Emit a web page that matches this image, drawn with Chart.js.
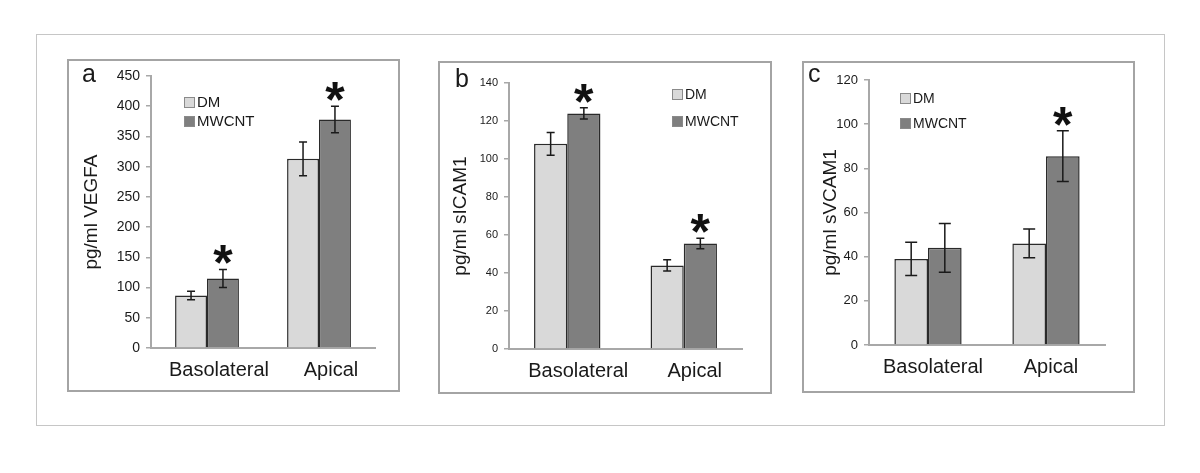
<!DOCTYPE html>
<html>
<head>
<meta charset="utf-8">
<script src="https://cdn.jsdelivr.net/npm/chart.js@4.4.0/dist/chart.umd.min.js"></script>
<style>
body { margin: 0; background: #fff; width: 1200px; height: 473px; position: relative; overflow: hidden; }
#frame { position: absolute; left: 36px; top: 34px; width: 1129px; height: 392px; border: 1.5px solid #c6c6c6; box-sizing: border-box; }
.panel { position: absolute; border: 2px solid #a4a4a4; box-sizing: border-box; background: #fff; }
.panel div { position: absolute; left: 0; top: 0; right: 0; bottom: 0; }
</style>
</head>
<body>
<div id="frame"></div>
<div class="panel" style="left:67px;top:59px;width:333px;height:333px"><div><canvas id="chartA"></canvas></div></div>
<div class="panel" style="left:438px;top:61px;width:334px;height:333px"><div><canvas id="chartB"></canvas></div></div>
<div class="panel" style="left:802px;top:61px;width:333px;height:332px"><div><canvas id="chartC"></canvas></div></div>
<script>
var categories = ["Basolateral", "Apical"];
var seriesNames = ["DM", "MWCNT"];

// panel a - VEGFA
var vegfaDM = [87, 313];
var vegfaDMErr = [7, 28];
var vegfaMW = [115, 378];
var vegfaMWErr = [15, 22];
var vegfaStars = [true, true];

// panel b - sICAM1
var icamDM = [108, 44];
var icamDMErr = [6, 3];
var icamMW = [124, 55.5];
var icamMWErr = [3, 2.8];
var icamStars = [true, true];

// panel c - sVCAM1
var vcamDM = [39, 46];
var vcamDMErr = [7.5, 6.5];
var vcamMW = [44, 85.5];
var vcamMWErr = [11, 11.5];
var vcamStars = [false, true];

var FONT = "'Liberation Sans', Arial, sans-serif";
var lightGrey = "#d9d9d9";
var darkGrey = "#7f7f7f";

var extras = {
    id: 'extras',
    afterDatasetsDraw: function (chart, args, opts) {
        var ctx = chart.ctx;
        var y = chart.scales.y;
        ctx.save();
        ctx.strokeStyle = "#1a1a1a";
        ctx.lineWidth = 1.5;
        chart.data.datasets.forEach(function (ds, i) {
            chart.getDatasetMeta(i).data.forEach(function (bar, j) {
                var top = y.getPixelForValue(ds.data[j] + ds.errors[j]);
                var bot = y.getPixelForValue(ds.data[j] - ds.errors[j]);
                var half = opts.cap / 2;
                ctx.beginPath();
                ctx.moveTo(bar.x, top); ctx.lineTo(bar.x, bot);
                ctx.moveTo(bar.x - half, top); ctx.lineTo(bar.x + half, top);
                ctx.moveTo(bar.x - half, bot); ctx.lineTo(bar.x + half, bot);
                ctx.stroke();
                if (ds.stars && ds.stars[j]) {
                    ctx.fillStyle = "#111";
                    ctx.font = "bold 50px " + FONT;
                    ctx.textAlign = "center";
                    ctx.textBaseline = "alphabetic";
                    ctx.fillText("*", bar.x, top + 11);
                }
            });
        });
        ctx.restore();
    },
    afterDraw: function (chart, args, opts) {
        var ctx = chart.ctx;
        ctx.save();
        // panel letter
        ctx.fillStyle = "#1a1a1a";
        ctx.font = "25px " + FONT;
        ctx.textAlign = "left";
        ctx.textBaseline = "alphabetic";
        ctx.fillText(opts.letter, opts.letterX, opts.letterY);
        // legend
        ctx.font = opts.legendFont + "px " + FONT;
        ctx.textBaseline = "middle";
        chart.data.datasets.forEach(function (ds, i) {
            var cy = opts.legendY + i * opts.legendGap;
            ctx.fillStyle = ds.backgroundColor;
            ctx.fillRect(opts.legendX, cy - 5, 10, 10);
            ctx.strokeStyle = "#8a8a8a";
            ctx.lineWidth = 1;
            ctx.strokeRect(opts.legendX + 0.5, cy - 4.5, 10, 10);
            ctx.fillStyle = "#1a1a1a";
            ctx.fillText(ds.label, opts.legendX + 13, cy + 1);
        });
        ctx.restore();
    }
};

function makeBars(canvas_id, dm, dmErr, mw, mwErr, stars, axis, look) {
    var ctx = document.getElementById(canvas_id).getContext("2d");
    return new Chart(ctx, {
        type: 'bar',
        data: {
            labels: categories,
            datasets: [{
                label: seriesNames[0],
                data: dm,
                errors: dmErr,
                backgroundColor: lightGrey,
                borderColor: "#2a2a2a",
                borderWidth: 1.5,
                categoryPercentage: 0.57,
                barPercentage: 1
            }, {
                label: seriesNames[1],
                data: mw,
                errors: mwErr,
                stars: stars,
                backgroundColor: darkGrey,
                borderColor: "#2a2a2a",
                borderWidth: 1.5,
                categoryPercentage: 0.57,
                barPercentage: 1
            }]
        },
        options: {
            responsive: true,
            maintainAspectRatio: false,
            animation: false,
            layout: {padding: {left: 0, top: look.top, right: look.right, bottom: 0}},
            plugins: {
                legend: {display: false},
                tooltip: {enabled: false},
                extras: look.extras
            },
            scales: {
                x: {
                    grid: {display: false},
                    border: {display: true, color: "#a8a8a8", width: 2},
                    ticks: {color: "#1a1a1a", font: {family: FONT, size: 20}, padding: 2, labelOffset: look.labelOffset},
                    afterFit: function (s) { s.height = look.bottom; }
                },
                y: {
                    min: 0,
                    max: axis.max,
                    ticks: {stepSize: axis.step, color: "#1a1a1a", font: {family: FONT, size: look.tickFont}, padding: 6},
                    grid: {drawOnChartArea: false, tickLength: 5, color: "#a8a8a8", lineWidth: 1.5},
                    border: {display: true, color: "#a8a8a8", width: 2},
                    title: {display: true, text: axis.title, color: "#1a1a1a", font: {family: FONT, size: 19}, padding: {top: look.titlePad, bottom: 0}},
                    afterFit: function (s) { s.width = look.left; }
                }
            }
        },
        plugins: [extras]
    });
}

window.onload = function () {
    makeBars('chartA', vegfaDM, vegfaDMErr, vegfaMW, vegfaMWErr, vegfaStars,
        {max: 450, step: 50, title: "pg/ml VEGFA"},
        {left: 82, right: 23, top: 15, bottom: 42, tickFont: 14, titlePad: 11, labelOffset: 12,
         extras: {letter: "a", letterX: 13, letterY: 21, legendX: 115, legendY: 41, legendGap: 19, legendFont: 15, cap: 8}});
    makeBars('chartB', icamDM, icamDMErr, icamMW, icamMWErr, icamStars,
        {max: 140, step: 20, title: "pg/ml sICAM1"},
        {left: 69, right: 28, top: 20, bottom: 43, tickFont: 11, titlePad: 9, labelOffset: 11,
         extras: {letter: "b", letterX: 15, letterY: 24, legendX: 232, legendY: 31, legendGap: 27, legendFont: 14, cap: 8}});
    makeBars('chartC', vcamDM, vcamDMErr, vcamMW, vcamMWErr, vcamStars,
        {max: 120, step: 20, title: "pg/ml sVCAM1"},
        {left: 65, right: 28, top: 17, bottom: 46, tickFont: 13, titlePad: 15, labelOffset: 5,
         extras: {letter: "c", letterX: 4, letterY: 19, legendX: 96, legendY: 35, legendGap: 25, legendFont: 14, cap: 12}});
};
</script>
</body>
</html>
